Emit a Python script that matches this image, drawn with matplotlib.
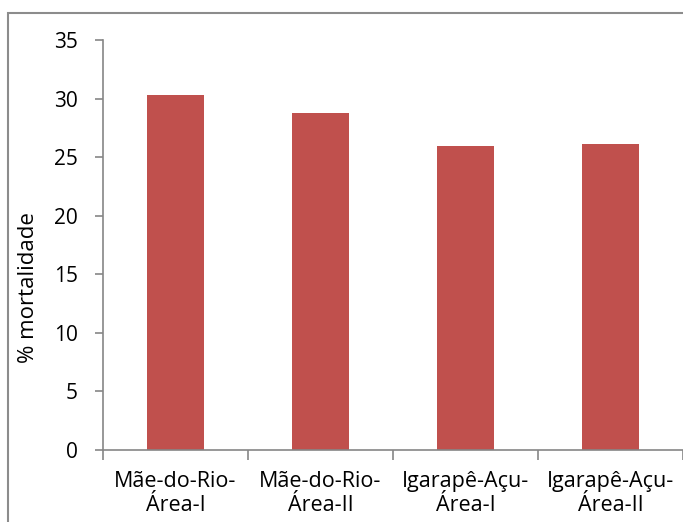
import matplotlib.pyplot as plt
from matplotlib.patches import Rectangle

plt.rcParams['font.family'] = ['Open Sans', 'DejaVu Sans']

# dados
areas = ['Mãe-do-Rio-\nÁrea-I', 'Mãe-do-Rio-\nÁrea-II',
         'Igarapê-Açu-\nÁrea-I', 'Igarapê-Açu-\nÁrea-II']
mortalidade = [30.3, 28.75, 25.95, 26.1]
yticks = [0, 5, 10, 15, 20, 25, 30, 35]

fig = plt.figure(figsize=(6.83, 5.22), dpi=100)
# moldura cinza do gráfico
fig.patches.append(Rectangle((8 / 683, -0.1), 1.2, 1 - 13 / 522 + 0.1,
                             transform=fig.transFigure, fill=False,
                             edgecolor='#8c8c8c', linewidth=1.5))

ax = fig.add_axes([103 / 683, 72 / 522, 580 / 683, 410 / 522])
x = range(len(areas))
ax.bar(x, mortalidade, width=0.39, color='#c0504d')

ax.set_ylim(0, 35)
ax.set_yticks(yticks)
ax.set_xlim(-0.5, len(areas) - 0.5)
ax.set_xticks(x)
ax.set_xticklabels(areas, fontsize=15.5, linespacing=1.2)
ax.set_xticks([i + 0.5 for i in range(-1, len(areas))], minor=True)
ax.tick_params(axis='x', which='major', length=0, pad=15)
ax.tick_params(axis='x', which='minor', length=7, color='#868686', width=1.2)
ax.tick_params(axis='y', length=6, color='#868686', width=1.2, labelsize=15, pad=12)
ax.set_ylabel('% mortalidade', fontsize=16)
ax.yaxis.set_label_coords(-0.11, 0.395)

for s in ['top', 'right']:
    ax.spines[s].set_visible(False)
for s in ['left', 'bottom']:
    ax.spines[s].set_color('#868686')
    ax.spines[s].set_linewidth(1.2)

fig.savefig('out.png', dpi=100)
